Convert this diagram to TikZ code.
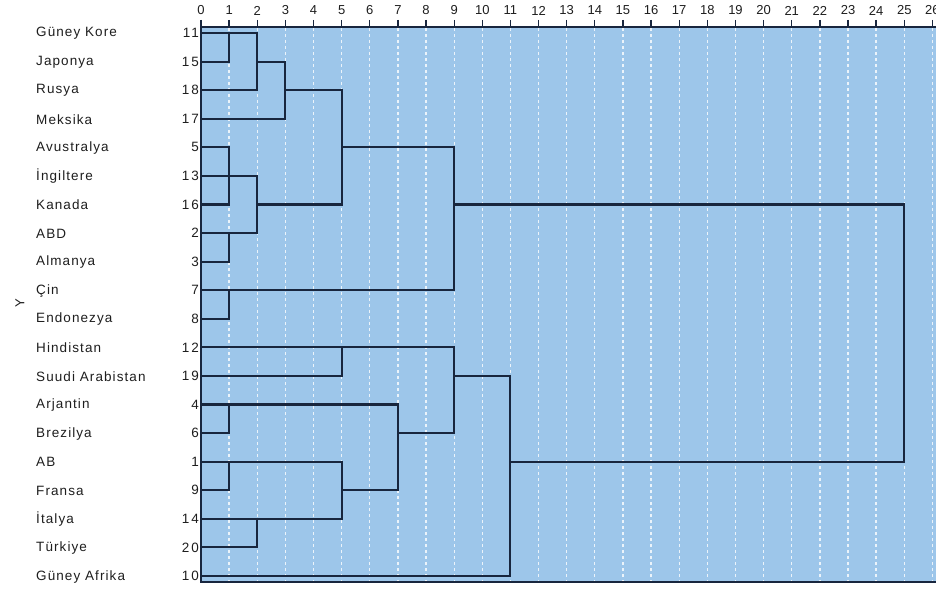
\documentclass[tikz,border=0pt]{standalone}
\usepackage{fontspec}
\setmainfont{Liberation Sans}
\newfontfamily\namefont[LetterSpace=8]{Liberation Sans}
\newfontfamily\numfont[LetterSpace=15]{Liberation Sans}
\definecolor{bgblue}{RGB}{157,198,234}
\definecolor{navy}{RGB}{24,38,62}
\definecolor{txt}{RGB}{30,30,30}
\tikzset{
  namelbl/.style={anchor=west,inner sep=0pt,text=txt,font=\namefont\fontsize{13.5}{16}\selectfont},
  numlbl/.style={anchor=east,inner sep=0pt,text=txt,font=\numfont\fontsize{13.5}{16}\selectfont},
  ticklbl/.style={anchor=center,inner sep=0pt,text=txt,font=\fontsize{13}{15}\selectfont},
  den/.style={draw=navy,line width=2.1pt,line cap=rect},
  gridline/.style={draw=white,opacity=0.8,line width=1.3pt,dash pattern=on 3pt off 3pt},
  axisline/.style={draw=navy,line width=1.8pt},
  tickmark/.style={draw=navy,line width=1.3pt},
}
\begin{document}
\begin{tikzpicture}[x=1pt,y=-1pt]
\useasboundingbox (0,0) rectangle (936,591);
\fill[white] (0,0) rectangle (936,591);
\fill[bgblue] (201,27) rectangle (940,582);
\foreach \i in {1,...,26}
  \draw[gridline] ({201+28.13*\i},28) -- ({201+28.13*\i},581);
% axis and frame
\draw[axisline] (201,27) -- (940,27);
\draw[axisline] (201,27) -- (201,582) -- (940,582);
\foreach \i in {0,...,26} {
  \draw[tickmark] ({201+28.13*\i},20) -- ({201+28.13*\i},27);
  \node[ticklbl] (t\i) at ({201+28.13*\i},10.5) {\i};
}
% row labels
\foreach \nm/\k [count=\i from 0] in {G\"uney Kore/11, Japonya/15, Rusya/18, Meksika/17, Avustralya/5, İngiltere/13, Kanada/16, ABD/2, Almanya/3, Çin/7, Endonezya/8, Hindistan/12, Suudi Arabistan/19, Arjantin/4, Brezilya/6, AB/1, Fransa/9, İtalya/14, Türkiye/20, G\"uney Afrika/10} {
  \node[namelbl] (name\i) at (36,{33+28.58*\i+0.5}) {\nm};
  \node[numlbl] (num\i) at (199,{33+28.58*\i}) {\k};
}
\node[font=\fontsize{13}{15}\selectfont,text=txt,rotate=90,inner sep=0pt] (ylab) at (20,303) {Y};
% dendrogram
\begin{scope}[shift={(201,33)},x=28.13pt,y=-28.58pt]
\draw[den] (0,0) -| (1,1) -- (0,1);
\draw[den] (1,0) -| (2,2) -- (0,2);
\draw[den] (2,1) -| (3,3) -- (0,3);
\draw[den] (3,2) -| (5,6) -- (2,6);
\draw[den] (0,4) -| (1,6) -- (0,6);
\draw[den] (0,5) -- (1,5);
\draw[den] (0,7) -| (1,8) -- (0,8);
\draw[den] (1,5) -| (2,7) -- (1,7);
\draw[den] (0,9) -| (1,10) -- (0,10);
\draw[den] (5,4) -| (9,9) -- (1,9);
\draw[den] (0,11) -| (5,12) -- (0,12);
\draw[den] (0,13) -| (1,14) -- (0,14);
\draw[den] (0,15) -| (1,16) -- (0,16);
\draw[den] (0,17) -| (2,18) -- (0,18);
\draw[den] (1,15) -| (5,17) -- (2,17);
\draw[den] (1,13) -| (7,16) -- (5,16);
\draw[den] (5,11) -| (9,14) -- (7,14);
\draw[den] (9,12) -| (11,19) -- (0,19);
\draw[den] (9,6) -| (25,15) -- (11,15);
\end{scope}
\end{tikzpicture}
\end{document}
